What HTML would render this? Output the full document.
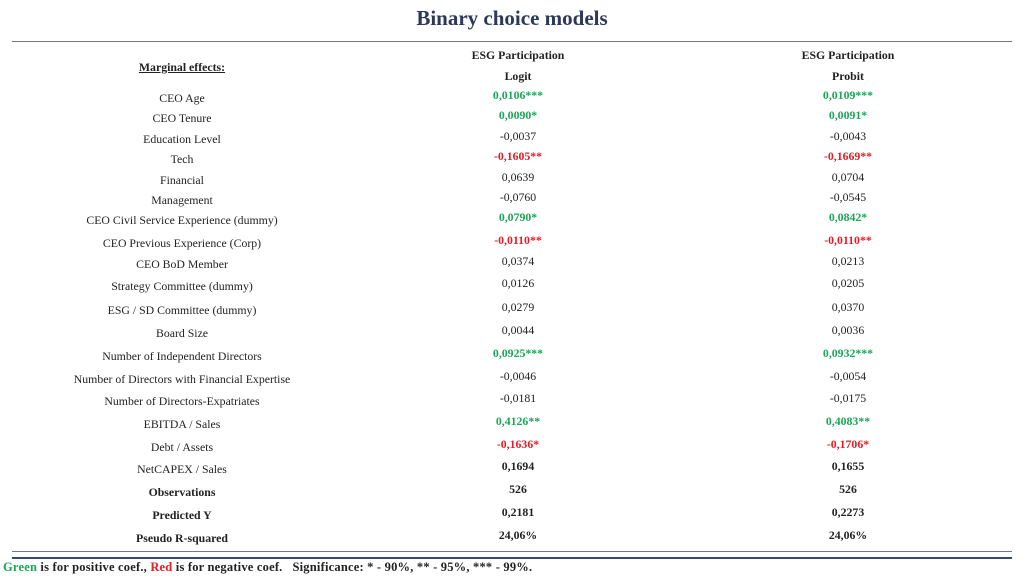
<!DOCTYPE html>
<html><head><meta charset="utf-8"><style>
body{margin:0;width:1024px;height:576px;background:#fff;position:relative;overflow:hidden;font-family:"Liberation Serif",serif;color:#222}
.t{position:absolute;transform:translateX(-50%);white-space:nowrap;font-size:11.8px;line-height:13px}
.b{font-weight:bold}
.g{color:#1aa757;font-weight:bold}
.r{color:#e41d25;font-weight:bold}
.line{position:absolute}
</style></head><body>
<div style="position:absolute;left:0;width:1024px;top:6px;text-align:center;font-size:21px;font-weight:bold;color:#2b3a5b">Binary choice models</div>
<div class="line" style="left:12px;width:1000px;top:41px;height:1px;background:#777"></div>
<div class="t b" style="left:182px;top:61px;text-decoration:underline">Marginal effects:</div>
<div class="t b" style="left:518px;top:49px">ESG Participation</div>
<div class="t b" style="left:518px;top:70px">Logit</div>
<div class="t b" style="left:848px;top:49px">ESG Participation</div>
<div class="t b" style="left:848px;top:70px">Probit</div>
<div id="rows"></div>
<div class="line" style="left:12px;width:1000px;top:551px;height:1px;background:#777"></div>
<div class="line" style="left:12px;width:1000px;top:557px;height:2px;background:#3a4a6b"></div>
<div style="position:absolute;left:3px;top:560px;font-size:12.5px;font-weight:bold;white-space:nowrap;letter-spacing:0.2px"><span style="color:#1aa757">Green</span> is for positive coef., <span style="color:#e41d25">Red</span> is for negative coef. &nbsp; Significance: * - 90%, ** - 95%, *** - 99%.</div>
<script>
const labels=["CEO Age","CEO Tenure","Education Level","Tech","Financial","Management","CEO Civil Service Experience (dummy)","CEO Previous Experience (Corp)","CEO BoD Member","Strategy Committee (dummy)","ESG / SD Committee (dummy)","Board Size","Number of Independent Directors","Number of Directors with Financial Expertise","Number of Directors-Expatriates","EBITDA / Sales","Debt / Assets","NetCAPEX / Sales","Observations","Predicted Y","Pseudo R-squared"];
const logit=["0,0106***","0,0090*","-0,0037","-0,1605**","0,0639","-0,0760","0,0790*","-0,0110**","0,0374","0,0126","0,0279","0,0044","0,0925***","-0,0046","-0,0181","0,4126**","-0,1636*","0,1694","526","0,2181","24,06%"];
const probit=["0,0109***","0,0091*","-0,0043","-0,1669**","0,0704","-0,0545","0,0842*","-0,0110**","0,0213","0,0205","0,0370","0,0036","0,0932***","-0,0054","-0,0175","0,4083**","-0,1706*","0,1655","526","0,2273","24,06%"];
const styleL=["g","g","","r","","","g","r","","","","","g","","","g","r","b","b","b","b"];
const labelBold=[18,19,20];
const rowY=[98,118,139,159,180,200,220,243,264,286,310,333,356,379,401,424,447,469,492,515,538];
const root=document.getElementById('rows');
function mk(txt,cls,x,y,name){const d=document.createElement('div');d.className='t '+cls;d.textContent=txt;d.style.left=x+'px';d.style.top=(y-6)+'px';


root.appendChild(d);}
labels.forEach((l,i)=>{
 mk(l,labelBold.includes(i)?'b':'',182,rowY[i],'row-label');
 mk(logit[i],styleL[i],518,rowY[i]-3,'logit-value');
 mk(probit[i],styleL[i],848,rowY[i]-3,'probit-value');
});
</script>
</body></html>
